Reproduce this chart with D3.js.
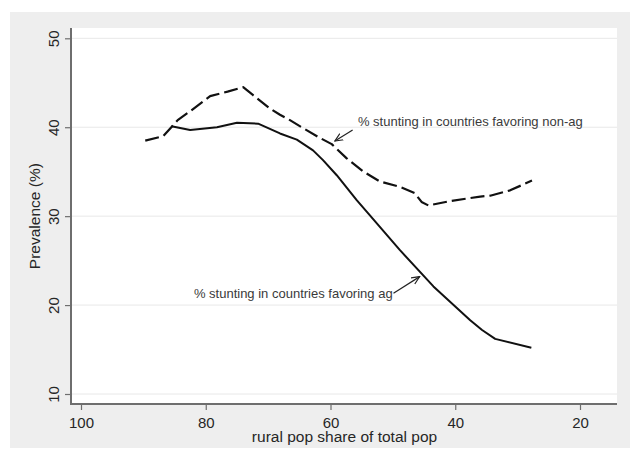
<!DOCTYPE html>
<html>
<head>
<meta charset="utf-8">
<script src="https://cdn.jsdelivr.net/npm/d3@7"></script>
<style>
  html, body { margin: 0; padding: 0; background: #ffffff; }
  svg { display: block; font-family: "Liberation Sans", Arial, Helvetica, sans-serif; }
</style>
</head>
<body>
<svg id="chart" width="630" height="459"></svg>
<script>
// Rural population share (x, %) and stunting prevalence (y, %)
const agShare = [85.5, 82.5, 78.2, 75.0, 71.6, 68.1, 65.4, 62.8, 61.2, 59.0, 55.8, 54.2, 48.9, 43.5, 37.6, 35.7, 33.6, 27.8];
const agStunting = [40.1, 39.7, 40.0, 40.5, 40.4, 39.3, 38.6, 37.4, 36.3, 34.6, 31.8, 30.5, 26.2, 22.1, 18.3, 17.2, 16.2, 15.2];

const nonAgShare = [89.7, 86.8, 84.5, 82.5, 79.3, 76.5, 74.0, 72.4, 69.7, 68.1, 66.5, 64.4, 61.7, 59.8, 57.4, 54.7, 52.1, 48.9, 46.5, 45.4, 44.3, 40.8, 36.0, 34.4, 31.2, 27.7];
const nonAgStunting = [38.5, 39.0, 40.8, 41.8, 43.5, 44.0, 44.5, 43.6, 42.1, 41.4, 40.8, 39.9, 38.8, 38.1, 36.5, 35.0, 33.9, 33.3, 32.6, 31.6, 31.2, 31.7, 32.2, 32.3, 32.9, 34.0];

const xTicks = [100, 80, 60, 40, 20];
const yTicks = [10, 20, 30, 40, 50];

const labelNonAg = "% stunting in countries favoring non-ag";
const labelAg = "% stunting in countries favoring ag";
const xTitle = "rural pop share of total pop";
const yTitle = "Prevalence (%)";

const svg = d3.select("#chart");

// Outer graph region and plot region
const plot = { left: 72, right: 617, top: 28, bottom: 404 };

svg.append("rect")
  .attr("x", 10).attr("y", 12)
  .attr("width", 620).attr("height", 436)
  .attr("fill", "#eeeeee");

svg.append("rect")
  .attr("x", plot.left).attr("y", plot.top)
  .attr("width", plot.right - plot.left).attr("height", plot.bottom - plot.top)
  .attr("fill", "#ffffff");

// Reversed x scale: higher rural share on the left
const x = d3.scaleLinear().domain([100, 20]).range([81, 580]);
const y = d3.scaleLinear().domain([10, 50]).range([394, 38.3]);

// Horizontal gridlines
svg.append("g")
  .selectAll("line")
  .data(yTicks)
  .join("line")
  .attr("x1", plot.left).attr("x2", plot.right)
  .attr("y1", d => y(d)).attr("y2", d => y(d))
  .attr("stroke", "#e8e8e8")
  .attr("stroke-width", 1);

// Y axis
const yAxis = svg.append("g")
  .attr("transform", `translate(${plot.left - 1},0)`)
  .call(d3.axisLeft(y).tickValues(yTicks).tickSize(6).tickSizeOuter(0).tickFormat(d3.format("d")));
yAxis.select(".domain")
  .attr("d", `M0,${plot.top}V${plot.bottom}`)
  .attr("stroke", "#6e6e6e").attr("stroke-width", 2);
yAxis.selectAll(".tick line").attr("stroke", "#6e6e6e").attr("stroke-width", 1.2);
yAxis.selectAll(".tick text")
  .attr("x", null).attr("dy", null)
  .attr("transform", "translate(-12.5,0) rotate(-90)")
  .attr("text-anchor", "middle")
  .attr("font-size", 15)
  .attr("fill", "#262626")
  .attr("font-family", "Liberation Sans, Arial, sans-serif");

// X axis
const xAxis = svg.append("g")
  .attr("transform", `translate(0,${plot.bottom})`)
  .call(d3.axisBottom(x).tickValues(xTicks).tickSize(6).tickSizeOuter(0).tickFormat(d3.format("d")));
xAxis.select(".domain")
  .attr("d", `M${plot.left - 2},0H${plot.right}`)
  .attr("stroke", "#6e6e6e").attr("stroke-width", 2);
xAxis.selectAll(".tick line").attr("stroke", "#6e6e6e").attr("stroke-width", 1.2);
xAxis.selectAll(".tick text")
  .attr("y", 23.5).attr("dy", null)
  .attr("font-size", 15)
  .attr("fill", "#262626")
  .attr("font-family", "Liberation Sans, Arial, sans-serif");

// Axis titles
svg.append("text")
  .attr("x", (plot.left + plot.right) / 2)
  .attr("y", 442)
  .attr("text-anchor", "middle")
  .attr("font-size", 15.5)
  .attr("fill", "#262626")
  .text(xTitle);

svg.append("text")
  .attr("transform", `translate(39.5,${y(30)}) rotate(-90)`)
  .attr("text-anchor", "middle")
  .attr("font-size", 15.5)
  .attr("fill", "#262626")
  .text(yTitle);

// Series lines
const line = d3.line().x(d => x(d[0])).y(d => y(d[1])).curve(d3.curveLinear);

svg.append("path")
  .datum(d3.zip(agShare, agStunting))
  .attr("d", line)
  .attr("fill", "none")
  .attr("stroke", "#111")
  .attr("stroke-width", 2)
  .attr("stroke-linejoin", "round");

svg.append("path")
  .datum(d3.zip(nonAgShare, nonAgStunting))
  .attr("d", line)
  .attr("fill", "none")
  .attr("stroke", "#111")
  .attr("stroke-width", 2.2)
  .attr("stroke-dasharray", "14,5")
  .attr("stroke-linejoin", "round");

// Annotations with arrows
svg.append("defs").append("marker")
  .attr("id", "arrowhead")
  .attr("viewBox", "0 0 10 10")
  .attr("refX", 9).attr("refY", 5)
  .attr("markerWidth", 9).attr("markerHeight", 9)
  .attr("markerUnits", "userSpaceOnUse")
  .attr("orient", "auto")
  .append("path")
  .attr("d", "M0,1 L9,5 L0,9")
  .attr("fill", "none")
  .attr("stroke", "#222")
  .attr("stroke-width", 1.3);

function annotate(text, tx, ty, ax0, ay0, ax1, ay1) {
  svg.append("text")
    .attr("x", x(tx)).attr("y", y(ty))
    .attr("font-size", 13)
    .attr("fill", "#3a3a3a")
    .text(text);
  svg.append("line")
    .attr("x1", x(ax0)).attr("y1", y(ay0))
    .attr("x2", x(ax1)).attr("y2", y(ay1))
    .attr("stroke", "#222")
    .attr("stroke-width", 1.2)
    .attr("marker-end", "url(#arrowhead)");
}

annotate(labelNonAg, 55.6, 40.15, 56.45, 39.7, 59.3, 38.45);
annotate(labelAg, 81.9, 20.85, 49.9, 21.33, 45.7, 23.2);
</script>
</body>
</html>
